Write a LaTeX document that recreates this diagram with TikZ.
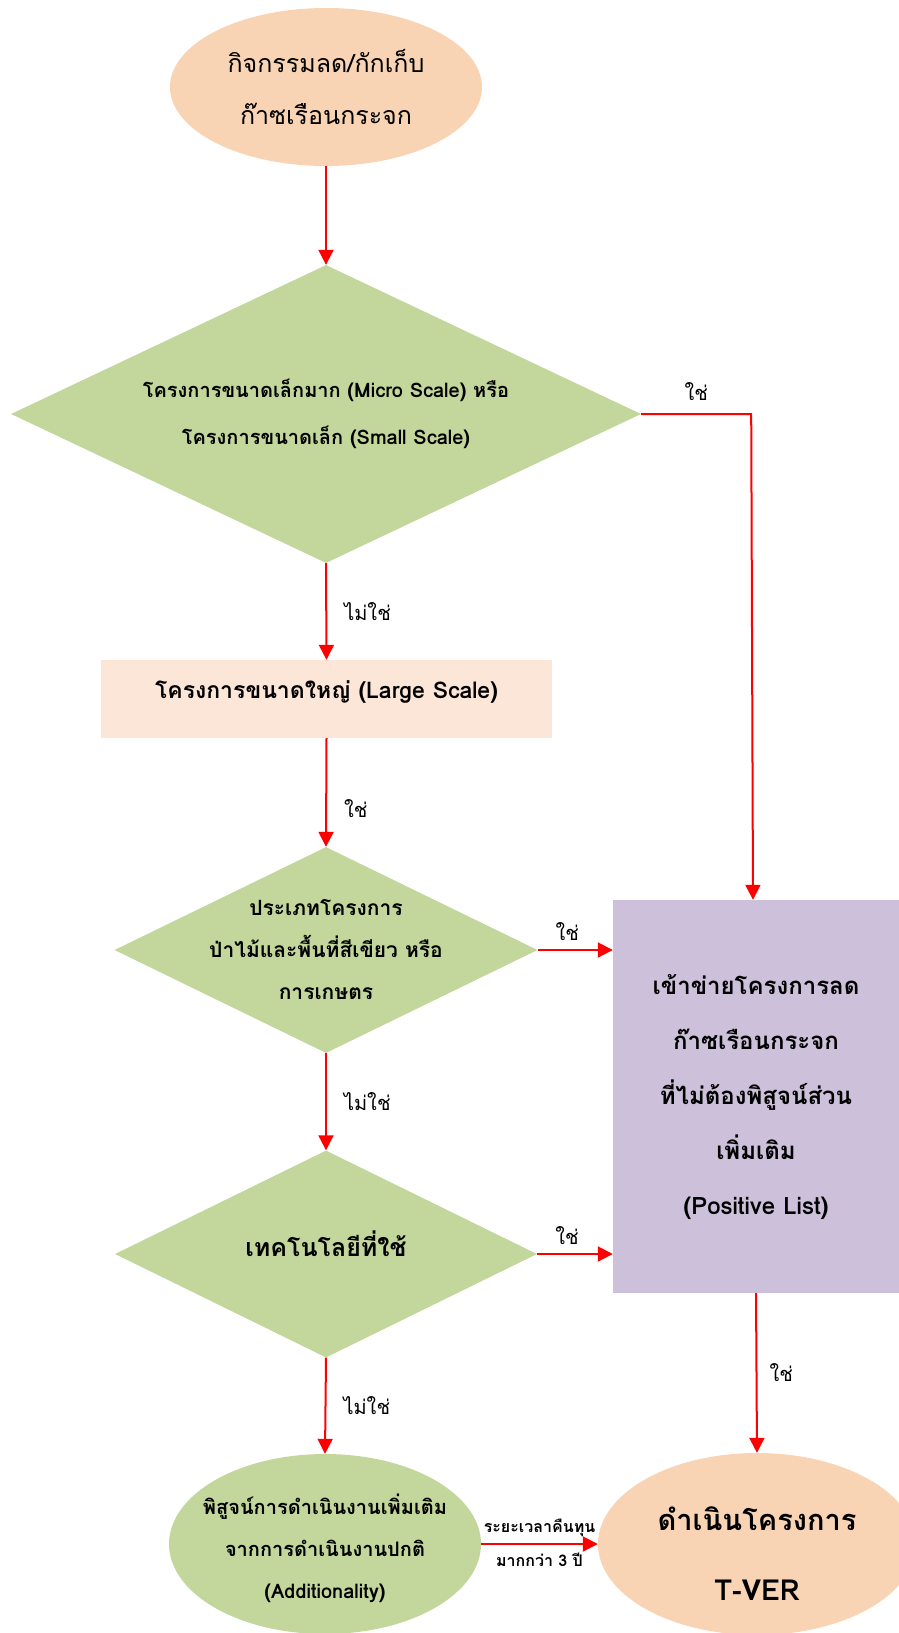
\documentclass[tikz,border=0pt]{standalone}
\usepackage{fontspec}
\setmainfont[Script=Thai]{Loma}
\usetikzlibrary{positioning,shapes.geometric,arrows.meta}
\definecolor{peach}{HTML}{F8D4B4}
\definecolor{lightpeach}{HTML}{FBE6D8}
\definecolor{leaf}{HTML}{C3D69B}
\definecolor{lilac}{HTML}{CCC0DA}

\begin{document}
\begin{tikzpicture}[x=1pt,y=-1pt,
  oval/.style={ellipse, fill=peach, inner sep=0pt},
  dia/.style={diamond, fill=leaf, inner sep=0pt},
  txt/.style={align=center, inner sep=0pt},
  arr/.style={red, line width=2pt, -{Triangle[length=15pt,width=15pt]}},
  lab/.style={inner sep=0pt, black, font=\fontsize{20}{24}\selectfont},
]
\useasboundingbox (0,0) rectangle (899,1633);

% shapes
\node[oval, minimum width=312pt, minimum height=158pt] (start) at (326,87) {};
\node[dia, minimum width=630pt, minimum height=298pt] (small) at (326,414) {};
\node[fill=lightpeach, minimum width=451pt, minimum height=78pt] (large) at (326.5,699) {};
\node[dia, minimum width=423pt, minimum height=206pt] (forest) at (326,950) {};
\node[dia, minimum width=422pt, minimum height=207pt] (tech) at (326,1254) {};
\node[fill=lilac, minimum width=286pt, minimum height=393pt] (poslist) at (756,1096.5) {};
\node[oval, fill=leaf, minimum width=312pt, minimum height=180pt] (addit) at (325,1544) {};
\node[oval, minimum width=318pt, minimum height=182pt] (tver) at (757,1544) {};

% texts
\node[txt, font=\fontsize{25}{52}\selectfont] (start-t) at (start) {กิจกรรมลด/กักเก็บ\\ก๊าซเรือนกระจก};
\node[txt, font=\fontsize{20}{47}\selectfont\bfseries] (small-t) at (small) {โครงการขนาดเล็กมาก (Micro Scale) หรือ\\โครงการขนาดเล็ก (Small Scale)};
\node[txt, font=\fontsize{23}{27}\selectfont\bfseries] (large-t) at ([yshift=7pt]large) {โครงการขนาดใหญ่ (Large Scale)};
\node[txt, font=\fontsize{21}{42}\selectfont\bfseries] (forest-t) at (forest) {ประเภทโครงการ\\ป่าไม้และพื้นที่สีเขียว หรือ\\การเกษตร};
\node[txt, font=\fontsize{25}{29}\selectfont\bfseries] (tech-t) at ([yshift=10pt]tech) {เทคโนโลยีที่ใช้};
\node[txt, font=\fontsize{24}{55}\selectfont\bfseries] (poslist-t) at (poslist) {เข้าข่ายโครงการลด\\ก๊าซเรือนกระจก\\ที่ไม่ต้องพิสูจน์ส่วน\\เพิ่มเติม\\(Positive List)};
\node[txt, font=\fontsize{20}{42}\selectfont\bfseries] (addit-t) at ([yshift=-4pt]addit) {พิสูจน์การดำเนินงานเพิ่มเติม\\จากการดำเนินงานปกติ\\(Additionality)};
\node[txt, font=\fontsize{29}{70}\selectfont\bfseries] (tver-t) at ([yshift=-10pt]tver) {ดำเนินโครงการ\\T-VER};

% connectors
\draw[arr] (start.south) -- (small.north);
\draw[arr] (small.east) -- node[lab, above=12pt] (yes1) {ใช่} ++(110,0) -- (poslist.north -| {(753,0)});
\draw[arr] (small.south) -- node[lab, right=17pt] (no1) {ไม่ใช่} (large.north);
\draw[arr] (large.south) -- node[lab, right=17pt, pos=0.65] (yes2) {ใช่} (forest.north);
\draw[arr] (forest.east) -- node[lab, above=8pt, xshift=-8pt] (yes3) {ใช่} (forest.east -| poslist.west);
\draw[arr] (forest.south) -- node[lab, right=17pt] (no2) {ไม่ใช่} (tech.north);
\draw[arr] (tech.east) -- node[lab, above=8pt, xshift=-8pt] (yes4) {ใช่} (tech.east -| poslist.west);
\draw[arr] (tech.south) -- node[lab, right=17pt] (no3) {ไม่ใช่} (addit.north);
\draw[arr] (poslist.south) -- node[lab, right=12pt] (yes5) {ใช่} (tver.north);
\draw[arr] (addit.east) -- node[lab, above=6pt, font=\fontsize{16}{19}\selectfont\bfseries] (payback) {ระยะเวลาคืนทุน}
  node[lab, below=8pt, font=\fontsize{16}{19}\selectfont\bfseries] (years) {มากกว่า 3 ปี} (addit.east -| tver.west);

\end{tikzpicture}
\end{document}
